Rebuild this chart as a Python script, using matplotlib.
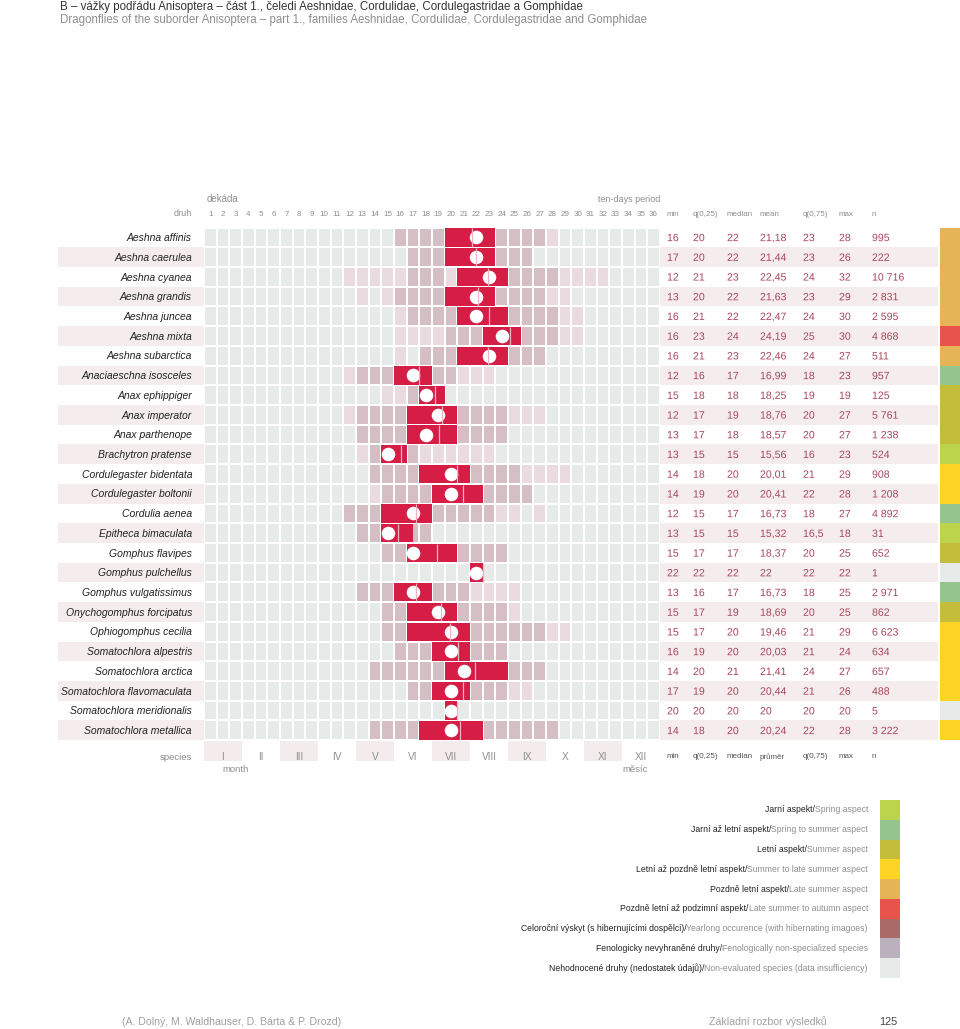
import matplotlib
matplotlib.use("Agg")
import matplotlib.pyplot as plt
from matplotlib.colors import ListedColormap
from matplotlib.transforms import Affine2D, blended_transform_factory
from matplotlib.textpath import TextPath
from matplotlib.patches import PathPatch
from matplotlib.font_manager import FontProperties
import numpy as np

W, H = 960, 1029

# --- data --------------------------------------------------------------
species = [
    "Aeshna affinis", "Aeshna caerulea", "Aeshna cyanea", "Aeshna grandis",
    "Aeshna juncea", "Aeshna mixta", "Aeshna subarctica",
    "Anaciaeschna isosceles", "Anax ephippiger", "Anax imperator",
    "Anax parthenope", "Brachytron pratense", "Cordulegaster bidentata",
    "Cordulegaster boltonii", "Cordulia aenea", "Epitheca bimaculata",
    "Gomphus flavipes", "Gomphus pulchellus", "Gomphus vulgatissimus",
    "Onychogomphus forcipatus", "Ophiogomphus cecilia",
    "Somatochlora alpestris", "Somatochlora arctica",
    "Somatochlora flavomaculata", "Somatochlora meridionalis",
    "Somatochlora metallica",
]

# shade of every ten-day cell (0 none, 1 rare, 2 common), decades 1..36
shade = [
    "000000000000000222222222222100000000",
    "000000000000000022222222220000000000",
    "000000000001111122212222222211110000",
    "000000000000101222222222222110000000",
    "000000000000000122222222222211000000",
    "000000000000000111122222222211000000",
    "000000000000000102222222222000000000",
    "000000000001222222221110000000000000",
    "000000000000001122200000000000000000",
    "000000000001222222222222111000000000",
    "000000000000222222222222000000000000",
    "000000000000122221111110000000000000",
    "000000000000022222222222211110000000",
    "000000000000012222222222220000000000",
    "000000000002222222222221101000000000",
    "000000000000222222000000000000000000",
    "000000000000002222222222000000000000",
    "000000000000000000000200000000000000",
    "000000000000222222222111100000000000",
    "000000000000002222222222100000000000",
    "000000000000002222222222222110000000",
    "000000000000000222222222000000000000",
    "000000000000022222222222222000000000",
    "000000000000000022222222110000000000",
    "000000000000000000020000000000000000",
    "000000000000022222222222222200000000",
]

d_min = [16, 17, 12, 13, 16, 16, 16, 12, 15, 12, 13, 13, 14, 14, 12, 13,
         15, 22, 13, 15, 15, 16, 14, 17, 20, 14]
q25 = [20, 20, 21, 20, 21, 23, 21, 16, 18, 17, 17, 15, 18, 19, 15, 15,
       17, 22, 16, 17, 17, 19, 20, 19, 20, 18]
median = [22, 22, 23, 22, 22, 24, 23, 17, 18, 19, 18, 15, 20, 20, 17, 15,
          17, 22, 17, 19, 20, 20, 21, 20, 20, 20]
mean = [21.18, 21.44, 22.45, 21.63, 22.47, 24.19, 22.46, 16.99, 18.25,
        18.76, 18.57, 15.56, 20.01, 20.41, 16.73, 15.32, 18.37, 22.0,
        16.73, 18.69, 19.46, 20.03, 21.41, 20.44, 20.0, 20.24]
q75 = [23, 23, 24, 23, 24, 25, 24, 18, 19, 20, 20, 16, 21, 22, 18, 16.5,
       20, 22, 18, 20, 21, 21, 24, 21, 20, 22]
d_max = [28, 26, 32, 29, 30, 30, 27, 23, 19, 27, 27, 23, 29, 28, 27, 18,
         25, 22, 25, 25, 29, 24, 27, 26, 20, 28]
n_obs = [995, 222, 10716, 2831, 2595, 4868, 511, 957, 125, 5761, 1238, 524,
         908, 1208, 4892, 31, 652, 1, 2971, 862, 6623, 634, 657, 488, 5, 3222]
aspect = [4, 4, 4, 4, 4, 5, 4, 1, 2, 2, 2, 0, 3, 3, 1, 0, 2, 8, 1, 2, 3, 3,
          3, 3, 8, 3]

aspect_cz = ["Jarní aspekt/", "Jarní až letní aspekt/", "Letní aspekt/",
             "Letní až pozdně letní aspekt/", "Pozdně letní aspekt/",
             "Pozdně letní až podzimní aspekt/",
             "Celoroční výskyt (s hibernujícími dospělci)/",
             "Fenologicky nevyhraněné druhy/",
             "Nehodnocené druhy (nedostatek údajů)/"]
aspect_en = ["Spring aspect", "Spring to summer aspect", "Summer aspect",
             "Summer to late summer aspect", "Late summer aspect",
             "Late summer to autumn aspect",
             "Yearlong occurence (with hibernating imagoes)",
             "Fenologically non-specialized species",
             "Non-evaluated species (data insufficiency)"]
aspect_colors = ["#bcd34c", "#95c48e", "#c4bd3c", "#fcd423", "#e5b457",
                 "#e8544c", "#a96b68", "#bab1bc", "#e6ebea"]

months = ["I", "II", "III", "IV", "V", "VI", "VII", "VIII", "IX", "X", "XI",
          "XII"]
head_top = ["min", "q(0,25)", "median", "mean", "q(0,75)", "max", "n"]
head_bot = ["min", "q(0,25)", "median", "průměr", "q(0,75)", "max", "n"]

# --- style --------------------------------------------------------------
plt.rcParams['font.family'] = 'Liberation Sans'
cell_colors = ["#e6ebea", "#e9dbdf", "#d5bfc5"]
red = "#d61d45"
stat_col = "#a8465e"
grey = "#8e8e8e"
stripe = "#f5eded"

GX0, GX1 = 204, 660
GY0, GY1 = 227.5, 740.2
stat_x = [667, 693, 727, 760, 803, 839, 872]
base = 0.19   # baseline offset below row centre, in rows
stat_size = 7.6


def fmt(v):
    v = float(v)
    if v.is_integer():
        return str(int(v))
    return str(v).replace(".", ",")


def fig_box(x0, y0, x1, y1):
    return [x0 / W, 1 - y1 / H, (x1 - x0) / W, (y1 - y0) / H]


fig = plt.figure(figsize=(W / 100, H / 100), dpi=100)
page = Affine2D().scale(1 / W, -1 / H).translate(0, 1) + fig.transFigure
nrow = len(species)
rows = np.arange(nrow) + 0.5

# side axes: stripes, labels, statistics, aspect colour
side = fig.add_axes(fig_box(0, GY0, W, GY1), zorder=0)
side.set_xlim(0, W)
side.set_ylim(nrow, 0)
side.axis('off')
side.barh(rows[1::2], 880, left=58, height=1, color=stripe)
side.barh(rows, 20, left=940, height=1,
          color=[aspect_colors[a] for a in aspect])

# numbers as glyph outlines so every value sits on the same baseline
fp = FontProperties(family='Liberation Sans')
for i, name in enumerate(species):
    y = rows[i] + base
    side.text(192, y, name, ha='right', va='baseline',
              style='italic', fontsize=7.5, color='#222222')
    vals = [fmt(d_min[i]), fmt(q25[i]), fmt(median[i]), fmt(mean[i]),
            fmt(q75[i]), fmt(d_max[i]), f"{n_obs[i]:,}".replace(",", " ")]
    for x, s in zip(stat_x, vals):
        px, py = side.transData.transform((x, y))
        tp = TextPath((0, 0), s, size=stat_size * fig.dpi / 72, prop=fp)
        fig.add_artist(PathPatch(tp, transform=Affine2D().translate(px, py),
                                 facecolor=stat_col, lw=0))

# the decade grid
grid = fig.add_axes(fig_box(GX0, GY0, GX1, GY1), zorder=1)
grid.set_xlim(0, 36)
grid.set_ylim(nrow, 0)
grid.axis('off')
levels = np.array([[int(c) for c in s] for s in shade])
grid.pcolormesh(np.arange(37), np.arange(nrow + 1), levels,
                cmap=ListedColormap(cell_colors), vmin=-0.5, vmax=2.5,
                edgecolors='white', linewidth=1.1)
q25a, q75a = np.array(q25, float), np.array(q75, float)
grid.barh(rows, q75a - q25a + 1, left=q25a - 1, height=0.93, color=red,
          zorder=3)
grid.scatter(np.array(median) - 0.5, rows, s=95, color='white',
             linewidths=0, zorder=4)
grid.vlines(mean, rows - 0.465, rows + 0.465, color='#f0b3c1', lw=0.9,
            zorder=5)

# headers
xg = blended_transform_factory(grid.transData, page)
fig.text(60, 7, "B – vážky podřádu Anisoptera – část 1., čeledi Aeshnidae, "
         "Cordulidae, Cordulegastridae a Gomphidae", transform=page,
         fontsize=8.3, color='#333333', va='center')
fig.text(60, 20, "Dragonflies of the suborder Anisoptera – part 1., families "
         "Aeshnidae, Cordulidae, Cordulegastridae and Gomphidae",
         transform=page, fontsize=8.3, color=grey, va='center')
fig.text(207, 199, "dekáda", transform=page, fontsize=7, color=grey,
         va='center')
fig.text(660, 199, "ten-days period", transform=page, fontsize=6.5,
         color=grey, va='center', ha='right')
fig.text(192, 214, "druh", transform=page, fontsize=6.5, color=grey,
         va='center', ha='right')
for k in range(1, 37):
    fig.text(k - 0.5, 214, str(k), transform=xg, fontsize=5.8, color=grey,
             ha='center', va='center')
for x, s in zip(stat_x, head_top):
    fig.text(x, 214, s, transform=page, fontsize=5.8, color=grey,
             va='center')

# month row
mx = fig.add_axes(fig_box(GX0, 741, GX1, 761), zorder=1)
mx.set_xlim(0, 36)
mx.set_ylim(0, 1)
mx.axis('off')
mcent = np.arange(12) * 3 + 1.5
mx.bar(mcent[0::2], 1, width=2.95, color="#f4ecec")
for c, m in zip(mcent, months):
    fig.text(c, 757, m, transform=xg, fontsize=7.3, color=grey, ha='center',
             va='center')
fig.text(192, 757, "species", transform=page, fontsize=6.8, color=grey,
         ha='right', va='center')
fig.text(222, 769, "month", transform=page, fontsize=6.8, color=grey,
         va='center')
fig.text(622, 769, "měsíc", transform=page, fontsize=6.8, color=grey,
         va='center')
for x, s in zip(stat_x, head_bot):
    fig.text(x, 757, s, transform=page, fontsize=5.8, color='#555555',
             va='center')

# legend
lg = fig.add_axes(fig_box(880, 800, 900, 978), zorder=1)
lg.set_xlim(0, 1)
lg.set_ylim(len(aspect_colors), 0)
lg.axis('off')
lrows = np.arange(len(aspect_colors)) + 0.5
lg.barh(lrows, 1, height=1, color=aspect_colors)
ly = blended_transform_factory(page, lg.transData)
for y, cz, en in zip(lrows, aspect_cz, aspect_en):
    t = fig.text(868, y, en, transform=ly, fontsize=6.2, color=grey,
                 ha='right', va='center')
    fig.add_artist(matplotlib.text.Annotation(
        cz, xy=(0, 0), xycoords=t, ha='right', va='bottom', fontsize=6.2,
        color='#222222'))

# footer
fig.text(122, 1022, "(A. Dolný, M. Waldhauser, D. Bárta & P. Drozd)",
         transform=page, fontsize=7.6, color='#a0a0a0', va='center')
fig.text(709, 1022, "Základní rozbor výsledků", transform=page,
         fontsize=7.6, color='#a0a0a0', va='center')
fig.text(879, 1022, "125", transform=page, fontsize=7.8, color='#444444',
         va='center')

fig.savefig("out.png", dpi=100)
